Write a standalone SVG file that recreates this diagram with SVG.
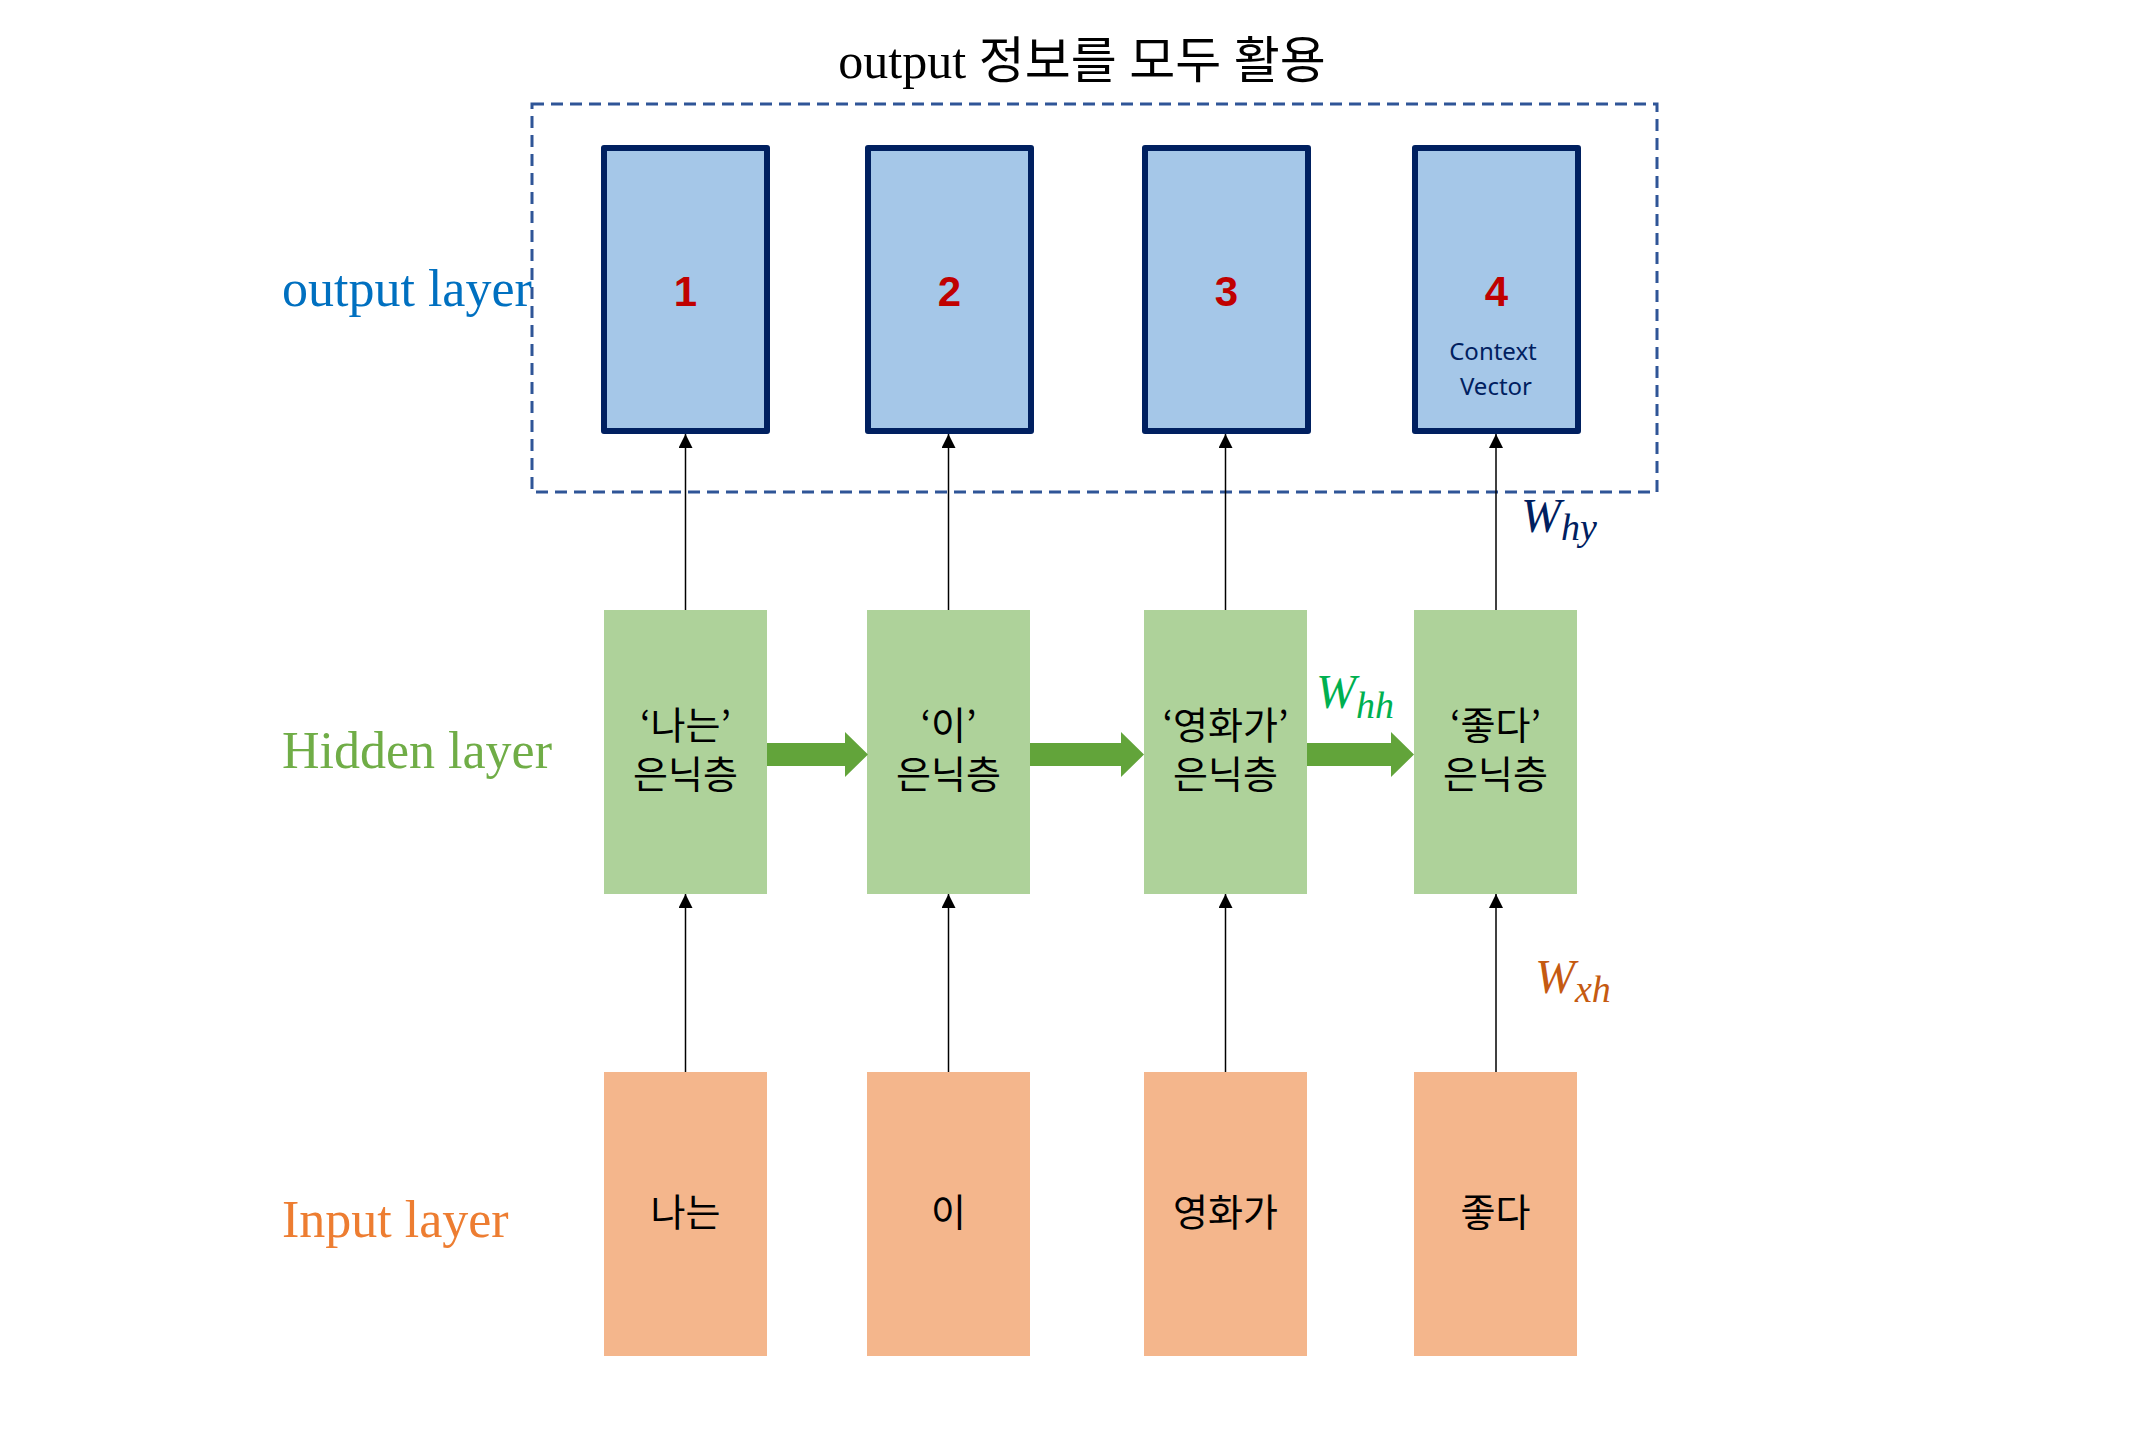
<svg xmlns="http://www.w3.org/2000/svg" width="2149" height="1440" viewBox="0 0 2149 1440">
<style>
.lbl{font-family:"Liberation Serif","Noto Sans CJK KR",serif;font-size:52px}
.ko{font-family:"Noto Sans CJK KR",sans-serif;font-size:38px;fill:#000;text-anchor:middle}
.out{fill:#A5C7E8;stroke:#002060;stroke-width:6;stroke-linejoin:round}
.hid{fill:#AED29A}
.inp{fill:#F4B68C}
.num{font-family:"Liberation Sans",sans-serif;font-weight:bold;font-size:42px;fill:#C00000;text-anchor:middle}
.ctx{font-family:"Noto Sans",sans-serif;font-size:24px;fill:#002060;text-anchor:middle}
.conn{stroke:#000;stroke-width:1.5;fill:none;marker-end:url(#ah)}
.w{font-family:"Liberation Serif",serif;font-style:italic}
.big{fill:#62A43A}
</style>
<defs>
<marker id="ah" markerUnits="userSpaceOnUse" markerWidth="14" markerHeight="14" refX="14" refY="7" orient="auto">
<path d="M0,0 L14,7 L0,14 z" fill="#000"/>
</marker>
</defs>
<rect width="2149" height="1440" fill="#fff"/>
<text x="1082" y="78" text-anchor="middle" style="font-family:'Liberation Serif','Noto Sans CJK KR',serif;font-size:50px" fill="#000">output 정보를 모두 활용</text>
<rect x="532" y="104" width="1125" height="388" fill="none" stroke="#2F5597" stroke-width="3" stroke-dasharray="12 7"/>
<text class="lbl" x="282" y="306" fill="#0070C0">output layer</text>
<text class="lbl" x="282" y="768" fill="#70AD47">Hidden layer</text>
<text class="lbl" x="282" y="1237" fill="#ED7D31">Input layer</text>
<g id="out1"><rect class="out" x="604" y="148" width="163" height="283"/><text class="num" x="685.5" y="306">1</text></g>
<g id="out2"><rect class="out" x="868" y="148" width="163" height="283"/><text class="num" x="949.5" y="306">2</text></g>
<g id="out3"><rect class="out" x="1145" y="148" width="163" height="283"/><text class="num" x="1226.5" y="306">3</text></g>
<g id="out4"><rect class="out" x="1415" y="148" width="163" height="283"/><text class="num" x="1496.5" y="306">4</text><text class="ctx" x="1493" y="360">Context</text><text class="ctx" x="1496" y="395">Vector</text></g>
<g id="hid1"><rect class="hid" x="604" y="610" width="163" height="284"/><text class="ko" x="685.5" y="739">‘나는’</text><text class="ko" x="685.5" y="788">은닉층</text></g>
<g id="hid2"><rect class="hid" x="867" y="610" width="163" height="284"/><text class="ko" x="948.5" y="739">‘이’</text><text class="ko" x="948.5" y="788">은닉층</text></g>
<g id="hid3"><rect class="hid" x="1144" y="610" width="163" height="284"/><text class="ko" x="1225.5" y="739">‘영화가’</text><text class="ko" x="1225.5" y="788">은닉층</text></g>
<g id="hid4"><rect class="hid" x="1414" y="610" width="163" height="284"/><text class="ko" x="1495.5" y="739">‘좋다’</text><text class="ko" x="1495.5" y="788">은닉층</text></g>
<g id="in1"><rect class="inp" x="604" y="1072" width="163" height="284"/><text class="ko" x="685.5" y="1226">나는</text></g>
<g id="in2"><rect class="inp" x="867" y="1072" width="163" height="284"/><text class="ko" x="948.5" y="1226">이</text></g>
<g id="in3"><rect class="inp" x="1144" y="1072" width="163" height="284"/><text class="ko" x="1225.5" y="1226">영화가</text></g>
<g id="in4"><rect class="inp" x="1414" y="1072" width="163" height="284"/><text class="ko" x="1495.5" y="1226">좋다</text></g>
<g id="connectors">
<line class="conn" x1="685.5" y1="1072" x2="685.5" y2="894"/>
<line class="conn" x1="948.5" y1="1072" x2="948.5" y2="894"/>
<line class="conn" x1="1225.5" y1="1072" x2="1225.5" y2="894"/>
<line class="conn" x1="1496" y1="1072" x2="1496" y2="894"/>
<line class="conn" x1="685.5" y1="610" x2="685.5" y2="434"/>
<line class="conn" x1="948.5" y1="610" x2="948.5" y2="434"/>
<line class="conn" x1="1225.5" y1="610" x2="1225.5" y2="434"/>
<line class="conn" x1="1496" y1="610" x2="1496" y2="434"/>
<polygon class="big" points="767,743 845,743 845,732 868,754.5 845,777 845,766 767,766"/>
<polygon class="big" points="1030,743 1121,743 1121,732 1144,754.5 1121,777 1121,766 1030,766"/>
<polygon class="big" points="1307,743 1391,743 1391,732 1414,754.5 1391,777 1391,766 1307,766"/>
</g>
<text class="w" x="1316" y="708" fill="#00B050" font-size="48">W<tspan font-size="38" dy="10">hh</tspan></text>
<text class="w" x="1521" y="532" fill="#002060" font-size="48">W<tspan font-size="38" dy="8">hy</tspan></text>
<text class="w" x="1535" y="993" fill="#C55A11" font-size="48">W<tspan font-size="38" dy="9">xh</tspan></text>
</svg>
